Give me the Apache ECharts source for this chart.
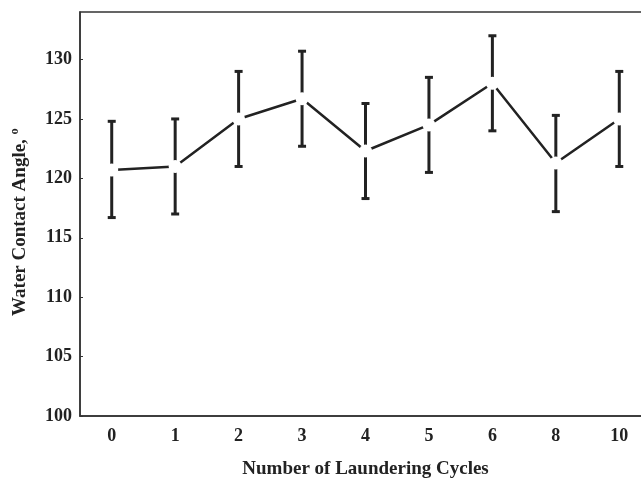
<!DOCTYPE html>
<html>
<head>
<meta charset="utf-8">
<script src="https://cdn.jsdelivr.net/npm/echarts@6/dist/echarts.min.js"></script>
<style>
  html, body { margin: 0; padding: 0; background: #fff; }
  #chart { width: 641px; height: 478px; }
</style>
</head>
<body>
<div id="chart"></div>
<script>
// Laundering cycles and measured water contact angle (degrees)
const cycles = ['0', '1', '2', '3', '4', '5', '6', '8', '10'];
const contactAngle = [120.7, 121.0, 125.0, 126.7, 122.3, 124.5, 128.0, 121.3, 125.0];
const errLow = [116.7, 117.0, 121.0, 122.7, 118.3, 120.5, 124.0, 117.2, 121.0];
const errHigh = [124.8, 125.0, 129.0, 130.7, 126.3, 128.5, 132.0, 125.3, 129.0];
const yTicks = { min: 100, max: 134, interval: 5 };

const errorData = cycles.map((c, i) => [i, errLow[i], errHigh[i]]);

const chart = echarts.init(document.getElementById('chart'));
const font = 'Liberation Serif';
const ink = '#222';

chart.setOption({
  animation: false,
  grid: {
    left: 80, top: 12, width: 571, height: 404,
    outerBoundsMode: 'none',
    containLabel: false,
    show: true, borderColor: '#333', borderWidth: 1.5, backgroundColor: 'transparent'
  },
  xAxis: {
    type: 'category',
    data: cycles,
    boundaryGap: true,
    name: 'Number of Laundering Cycles',
    nameLocation: 'middle',
    nameGap: 44,
    nameTextStyle: { fontFamily: font, fontWeight: 'bold', fontSize: 19, color: ink },
    axisLine: { lineStyle: { color: '#333', width: 1.5 } },
    axisTick: { inside: true, alignWithLabel: true, length: 3, lineStyle: { color: '#333' } },
    axisLabel: { fontFamily: font, fontWeight: 'bold', fontSize: 18, color: ink, margin: 11 },
    splitLine: { show: false }
  },
  yAxis: {
    type: 'value',
    min: yTicks.min, max: yTicks.max, interval: yTicks.interval,
    name: 'Water Contact Angle, º',
    nameLocation: 'middle',
    nameGap: 50,
    nameRotate: 90,
    nameTextStyle: { fontFamily: font, fontWeight: 'bold', fontSize: 19, color: ink, padding: [0, 16, 0, 0] },
    axisLine: { show: true, lineStyle: { color: '#333', width: 1.5 } },
    axisTick: { show: true, inside: true, length: 3, lineStyle: { color: '#333' } },
    axisLabel: { fontFamily: font, fontWeight: 'bold', fontSize: 18, color: ink, margin: 8, showMaxLabel: false },
    splitLine: { show: false }
  },
  series: [
    {
      type: 'custom',
      z: 1,
      data: errorData,
      renderItem: function (params, api) {
        const x = api.value(0);
        const lo = api.coord([x, api.value(1)]);
        const hi = api.coord([x, api.value(2)]);
        const cap = 4;
        const style = { stroke: ink, lineWidth: 3 };
        return {
          type: 'group',
          children: [
            { type: 'line', shape: { x1: lo[0], y1: lo[1], x2: hi[0], y2: hi[1] }, style: style },
            { type: 'line', shape: { x1: hi[0] - cap, y1: hi[1], x2: hi[0] + cap, y2: hi[1] }, style: style },
            { type: 'line', shape: { x1: lo[0] - cap, y1: lo[1], x2: lo[0] + cap, y2: lo[1] }, style: style }
          ]
        };
      }
    },
    {
      type: 'line',
      z: 2,
      data: contactAngle,
      symbol: 'circle',
      symbolSize: 13,
      showAllSymbol: true,
      lineStyle: { color: ink, width: 2.5 },
      itemStyle: { color: '#fff', borderColor: '#fff', borderWidth: 0 }
    }
  ]
});
</script>
</body>
</html>
